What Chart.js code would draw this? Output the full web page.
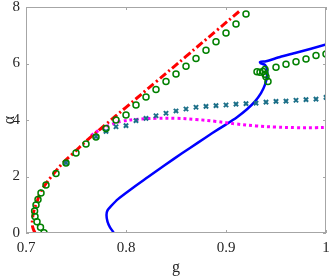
<!DOCTYPE html>
<html>
<head>
<meta charset="utf-8">
<script src="https://cdn.jsdelivr.net/npm/chart.js@4"></script>
<style>
  html, body { margin: 0; padding: 0; background: #fff; }
  #wrap { width: 332px; height: 277px; position: relative; }
</style>
</head>
<body>
<div id="wrap"><canvas id="c"></canvas></div>
<script>
// red dash-dot curve
const redG = [0.709, 0.7066, 0.7065, 0.708, 0.711, 0.714, 0.719, 0.7254, 0.7366, 0.7466, 0.76, 0.78, 0.80, 0.83, 0.86, 0.89, 0.915];
const redA = [0, 0.22, 0.5, 0.8, 1.1, 1.4, 1.7, 2.0, 2.47, 2.8, 3.25, 3.85, 4.45, 5.35, 6.25, 7.15, 7.9];

// green circles
const circG = [0.718, 0.7145, 0.711, 0.709, 0.7086, 0.71, 0.712, 0.715, 0.72, 0.73, 0.74, 0.75, 0.76, 0.77, 0.78, 0.79, 0.80, 0.81,
  0.82, 0.83, 0.84, 0.85, 0.86, 0.87, 0.88, 0.89, 0.90, 0.91, 0.92,
  0.931, 0.934, 0.937, 0.939, 0.939, 0.940, 0.942, 0.95, 0.96, 0.97, 0.98, 0.99, 1.0];
const circA = [0.01, 0.2, 0.4, 0.58, 0.78, 0.99, 1.19, 1.42, 1.7, 2.11, 2.48, 2.83, 3.15, 3.4, 3.7, 4.0, 4.18, 4.53,
  4.81, 5.08, 5.36, 5.63, 5.9, 6.18, 6.47, 6.77, 7.08, 7.4, 7.75,
  5.71, 5.69, 5.72, 5.79, 5.62, 5.53, 5.36, 5.87, 5.97, 6.06, 6.16, 6.28, 6.34];

// teal crosses
const crossG = [0.74, 0.77, 0.78, 0.79, 0.80, 0.81, 0.82, 0.83, 0.84, 0.85, 0.86, 0.87, 0.88, 0.89, 0.90, 0.91, 0.92, 0.93, 0.94, 0.95, 0.96, 0.97, 0.98, 0.99, 1.0];
const crossA = [2.48, 3.41, 3.60, 3.76, 3.80, 3.98, 4.06, 4.15, 4.24, 4.32, 4.39, 4.45, 4.48, 4.51, 4.53, 4.56, 4.58, 4.60, 4.63, 4.66, 4.67, 4.70, 4.72, 4.74, 4.80];

// magenta dotted curve
const magG = [0.765, 0.775, 0.785, 0.795, 0.81, 0.83, 0.85, 0.87, 0.89, 0.91, 0.93, 0.95, 0.97, 0.99, 1.0];
const magA = [3.45, 3.68, 3.84, 3.95, 4.02, 4.06, 4.06, 4.02, 3.95, 3.86, 3.79, 3.75, 3.73, 3.73, 3.74];

// blue solid curve
const blueG = [0.788, 0.784, 0.7815, 0.7805, 0.7815, 0.785, 0.792, 0.805, 0.822, 0.839, 0.856, 0.872, 0.886, 0.899, 0.911, 0.921, 0.929, 0.935, 0.939, 0.941, 0.941, 0.939, 0.935, 0.934, 0.940, 0.954, 0.970, 1.0];
const blueA = [0, 0.2, 0.4, 0.64, 0.8, 0.95, 1.2, 1.55, 1.98, 2.41, 2.82, 3.2, 3.53, 3.82, 4.1, 4.38, 4.66, 4.95, 5.25, 5.55, 5.8, 5.95, 6.0, 6.05, 6.08, 6.23, 6.38, 6.67];

const xTicks = [0.7, 0.8, 0.9, 1];
const yTicks = [0, 2, 4, 6, 8];

const pts = (xs, ys) => xs.map((x, i) => ({ x: x, y: ys[i] }));

const boxTicks = {
  id: "boxTicks",
  afterDraw(chart) {
    const { ctx, chartArea: a, scales } = chart;
    ctx.save();
    ctx.strokeStyle = "#a6a6a6";
    ctx.lineWidth = 1;
    ctx.strokeRect(a.left + 0.5, a.top + 0.5, a.right - a.left - 1, a.bottom - a.top - 1);
    ctx.beginPath();
    xTicks.forEach((v) => {
      const px = Math.round(scales.x.getPixelForValue(v)) + 0.5;
      ctx.moveTo(px, a.bottom); ctx.lineTo(px, a.bottom - 3);
      ctx.moveTo(px, a.top); ctx.lineTo(px, a.top + 3);
    });
    yTicks.forEach((v) => {
      const py = Math.round(scales.y.getPixelForValue(v)) + 0.5;
      ctx.moveTo(a.left, py); ctx.lineTo(a.left + 3, py);
      ctx.moveTo(a.right, py); ctx.lineTo(a.right - 3, py);
    });
    ctx.stroke();
    ctx.restore();
  },
};

const serif = "'Liberation Serif', 'DejaVu Serif', serif";

new Chart(document.getElementById("c"), {
  type: "scatter",
  data: {
    datasets: [
      {
        data: pts(blueG, blueA),
        showLine: true, borderColor: "#0000ff", borderWidth: 2.5,
        pointRadius: 0, tension: 0.2, order: 5,
      },
      {
        data: pts(magG, magA),
        showLine: true, borderColor: "#ff00ff", borderWidth: 3,
        borderDash: [3, 3], pointRadius: 0, tension: 0.4, order: 4,
      },
      {
        data: pts(redG, redA),
        showLine: true, borderColor: "#ff0000", borderWidth: 3,
        borderDash: [8, 3, 2, 3], pointRadius: 0, tension: 0.4, order: 3,
      },
      {
        data: pts(crossG, crossA),
        showLine: false, pointStyle: "crossRot", pointRadius: 3,
        borderColor: "#1b6f88", borderWidth: 2, order: 2,
      },
      {
        data: pts(circG, circA),
        showLine: false, pointStyle: "circle", pointRadius: 3,
        borderColor: "#008000", backgroundColor: "rgba(0,0,0,0)", borderWidth: 1.5, order: 1,
      },
    ],
  },
  options: {
    responsive: true,
    maintainAspectRatio: false,
    animation: false,
    events: [],
    layout: { padding: { top: 7, right: 3, left: 0, bottom: 0 } },
    plugins: { legend: { display: false }, tooltip: { enabled: false } },
    scales: {
      x: {
        type: "linear", min: 0.7, max: 1,
        afterBuildTicks: (s) => { s.ticks = xTicks.map((v) => ({ value: v })); },
        afterFit: (s) => { s.height = 44; s.paddingLeft = 0; s.paddingRight = 0; },
        grid: { display: false, drawTicks: false },
        border: { display: false },
        ticks: {
          padding: 6, color: "#262626",
          font: { family: serif, size: 15 },
          callback: (v) => String(v),
        },
        title: {
          display: true, text: "g", color: "#262626",
          font: { family: serif, size: 16 }, padding: { top: 3, bottom: 0 },
        },
      },
      y: {
        type: "linear", min: 0, max: 8,
        afterBuildTicks: (s) => { s.ticks = yTicks.map((v) => ({ value: v })); },
        afterFit: (s) => { s.width = 26; s.paddingTop = 0; s.paddingBottom = 0; },
        grid: { display: false, drawTicks: false },
        border: { display: false },
        ticks: {
          padding: 6, color: "#262626",
          font: { family: serif, size: 15 },
        },
        title: {
          display: true, text: "α", color: "#262626",
          font: { family: serif, size: 16 }, padding: { top: 0, bottom: 0 },
        },
      },
    },
  },
  plugins: [boxTicks],
});
</script>
</body>
</html>
